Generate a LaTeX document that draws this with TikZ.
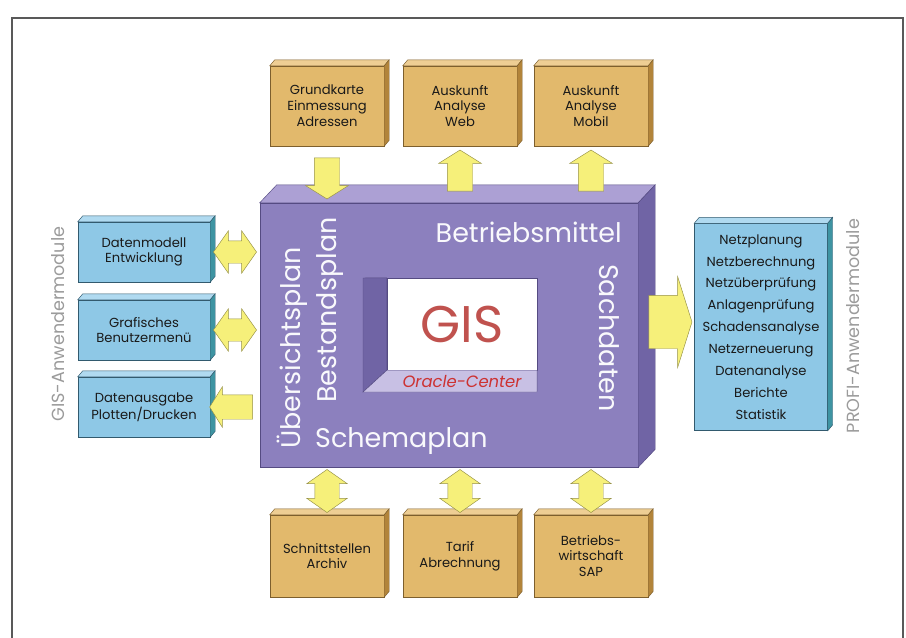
\documentclass[tikz,border=0pt]{standalone}
\usepackage{fontspec}
\setmainfont{Poppins}
\usetikzlibrary{shapes.arrows,calc}
\definecolor{orangefront}{RGB}{226,185,108}
\definecolor{orangetop}{RGB}{238,206,148}
\definecolor{orangeside}{RGB}{178,132,58}
\definecolor{orangeline}{RGB}{125,95,45}
\definecolor{bluefront}{RGB}{142,200,230}
\definecolor{bluetop}{RGB}{176,218,240}
\definecolor{blueside}{RGB}{62,148,162}
\definecolor{blueline}{RGB}{50,90,110}
\definecolor{lilacfront}{RGB}{140,128,190}
\definecolor{lilactop}{RGB}{172,160,212}
\definecolor{lilacside}{RGB}{112,100,165}
\definecolor{lilacline}{RGB}{85,75,130}
\definecolor{lilaclight}{RGB}{200,192,228}
\definecolor{arrowfill}{RGB}{246,240,122}
\definecolor{arrowline}{RGB}{150,145,70}
\definecolor{gisred}{RGB}{192,82,78}
\definecolor{ocred}{RGB}{205,50,50}
\definecolor{labelgray}{RGB}{155,155,155}
\newcommand{\pxl}{0.3mm}

\tikzset{
  orangebox/.style={draw=orangeline, fill=orangefront, minimum width=114*\pxl, minimum height=80*\pxl,
    align=center, inner sep=0pt, text=black!90, font=\fontsize{11.2}{13.5}\selectfont},
  bluebox/.style={draw=blueline, fill=bluefront, minimum width=132*\pxl, minimum height=60*\pxl,
    align=center, inner sep=0pt, text=black!90, font=\fontsize{11.2}{13.5}\selectfont},
  biglabel/.style={text=white!95!lilacfront, inner sep=0pt, font=\fontsize{23}{23}\selectfont},
  sidelabel/.style={text=labelgray, inner sep=0pt, font=\fontsize{15}{15}\selectfont},
  sarrow/.style={single arrow, draw=arrowline, fill=arrowfill, inner xsep=0pt, inner ysep=12.5*\pxl,
    minimum height=41*\pxl, single arrow head extend=8.5*\pxl, single arrow tip angle=116},
  darrow/.style={double arrow, draw=arrowline, fill=arrowfill, inner xsep=0pt, inner ysep=11*\pxl,
    minimum height=43*\pxl, double arrow head extend=10*\pxl, double arrow tip angle=110}
}

\begin{document}
\begin{tikzpicture}[x=\pxl, y=-\pxl]
  \useasboundingbox (0,0) rectangle (906,637);
  \draw[black!65, line width=1.5pt] (12,660) -- (12,18) -- (903,18) -- (903,660);

  % top and bottom modules
  \node[orangebox] (t1) at (327,106) {Grundkarte\\Einmessung\\Adressen};
  \node[orangebox] (t2) at (460,106) {Auskunft\\Analyse\\Web};
  \node[orangebox] (t3) at (591,106) {Auskunft\\Analyse\\Mobil};
  \node[orangebox, minimum height=82*\pxl] (b1) at (327,556) {Schnittstellen\\Archiv};
  \node[orangebox, minimum height=82*\pxl] (b2) at (460,556) {Tarif\\Abrechnung};
  \node[orangebox, minimum height=82*\pxl] (b3) at (591,556) {Betriebs-\\wirtschaft\\SAP};

  % GIS modules (left)
  \node[bluebox] (l1) at (144,252) {Datenmodell\\Entwicklung};
  \node[bluebox] (l2) at (144,330) {Grafisches\\Benutzermenü};
  \node[bluebox] (l3) at (144,407) {Datenausgabe\\Plotten/Drucken};
  \node[bluebox, minimum width=133*\pxl, minimum height=207*\pxl, font=\fontsize{11.2}{18.7}\selectfont] (profi) at (761,327)
    {Netzplanung\\Netzberechnung\\Netzüberprüfung\\Anlagenprüfung\\Schadensanalyse\\Netzerneuerung\\Datenanalyse\\Berichte\\Statistik};

  \foreach \n/\col in {t1/orange,t2/orange,t3/orange,b1/orange,b2/orange,b3/orange,l1/blue,l2/blue,l3/blue,profi/blue} {
    \filldraw[draw=\col line, fill=\col top] (\n.north west) -- ++(5,-6) -- ([shift={(5,-6)}]\n.north east) -- (\n.north east) -- cycle;
    \filldraw[draw=\col line, fill=\col side] (\n.north east) -- ++(5,-6) -- ([shift={(5,-6)}]\n.south east) -- (\n.south east) -- cycle;
  }

  \node[sidelabel, rotate=90] (gislab) at (58,324) {GIS-Anwendermodule};
  \node[sidelabel, rotate=90] (profilab) at (853,326) {PROFI-Anwendermodule};

  % central block
  \node[draw=lilacline, fill=lilacfront, minimum width=378*\pxl, minimum height=264*\pxl] (gis) at (449,335) {};
  \filldraw[draw=lilacline, fill=lilactop] (gis.north west) -- ++(17,-18) -- ([shift={(17,-18)}]gis.north east) -- (gis.north east) -- cycle;
  \filldraw[draw=lilacline, fill=lilacside] (gis.north east) -- ++(17,-18) -- ([shift={(17,-18)}]gis.south east) -- (gis.south east) -- cycle;

  \node[biglabel, anchor=base east] (bm) at (622,242) {Betriebsmittel};
  \node[biglabel, rotate=-90] (sd) at (609,338) {Sachdaten};
  \node[biglabel, rotate=90] (ue) at (292,348) {Übersichtsplan};
  \node[biglabel, rotate=90] (bp) at (330,310) {Bestandsplan};
  \node[biglabel, anchor=base west] (sp) at (315,447) {Schemaplan};

  \node[fill=white, draw=lilacline, minimum width=150*\pxl, minimum height=92*\pxl, inner sep=0pt,
    text=gisred, font=\fontsize{44}{44}\selectfont] (win) at (462,324) {GIS};
  \filldraw[draw=lilacline, fill=lilacside] (363,278) -- (win.north west) -- (win.south west) -- (363,392) -- cycle;
  \filldraw[draw=lilacline, fill=lilaclight] (363,392) -- (win.south west) -- (win.south east) -- (537,392) -- cycle;
  \node[text=ocred, inner sep=0pt, font=\itshape\fontsize{14}{14}\selectfont] (oc) at (462,381) {Oracle-Center};

  % arrows
  \node[sarrow, rotate=-90] (a1) at ($(t1.south)!0.5!(t1.south |- gis.north)$) {};
  \node[sarrow, rotate=90] (a2) at ($(t2.south)!0.5!(t2.south |- gis.north)$) {};
  \node[sarrow, rotate=90] (a3) at ($(t3.south)!0.5!(t3.south |- gis.north)$) {};
  \node[darrow] (a4) at ($(l1.east)!0.5!(gis.west |- l1.east)$) {};
  \node[darrow] (a5) at ($(l2.east)!0.5!(gis.west |- l2.east)$) {};
  \node[sarrow, rotate=180, inner ysep=12*\pxl, single arrow head extend=8*\pxl, minimum height=43*\pxl]
    (a6) at ($(l3.east)!0.5!(gis.west |- l3.east)$) {};
  \node[sarrow, inner ysep=26.5*\pxl, minimum height=43*\pxl, single arrow head extend=18.5*\pxl, single arrow tip angle=145]
    (a7) at ($(gis.east |- 0,322)!0.5!(profi.west |- 0,322)$) {};
  \node[darrow, rotate=90, inner ysep=12*\pxl, double arrow head extend=8*\pxl] (a8) at ($(b1.north)!0.5!(b1.north |- gis.south)$) {};
  \node[darrow, rotate=90, inner ysep=12*\pxl, double arrow head extend=8*\pxl] (a9) at ($(b2.north)!0.5!(b2.north |- gis.south)$) {};
  \node[darrow, rotate=90, inner ysep=12*\pxl, double arrow head extend=8*\pxl] (a10) at ($(b3.north)!0.5!(b3.north |- gis.south)$) {};
\end{tikzpicture}
\end{document}
